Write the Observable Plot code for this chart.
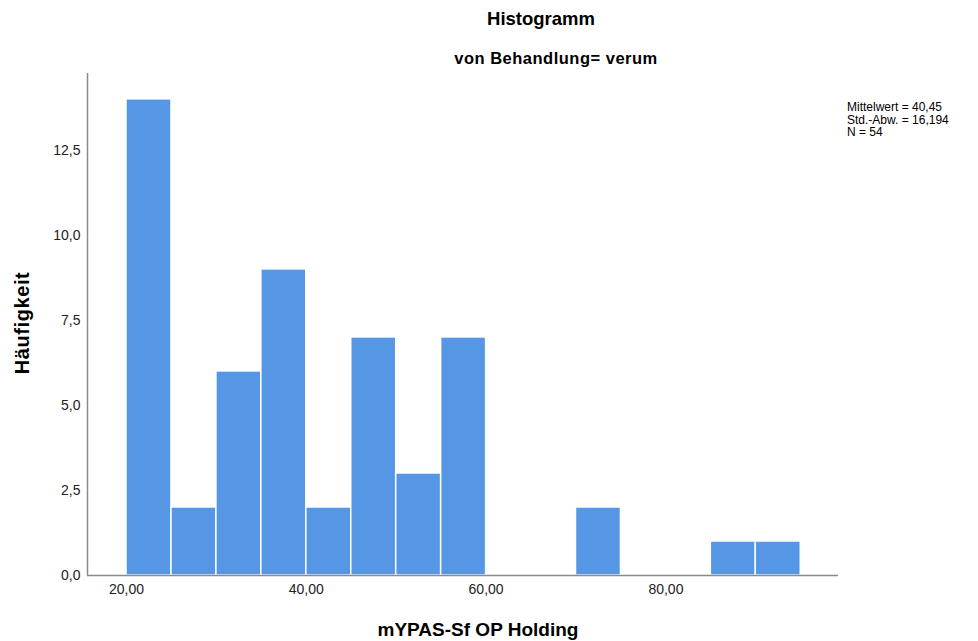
<!DOCTYPE html>
<html>
<head>
<meta charset="utf-8">
<script src="https://cdn.jsdelivr.net/npm/d3@7"></script>
<script src="https://cdn.jsdelivr.net/npm/@observablehq/plot@0.6"></script>
<style>
  html, body { margin: 0; padding: 0; background: #fff; }
  #wrap { position: relative; width: 978px; height: 641px; font-family: "Liberation Sans", Arial, sans-serif; }
  .t { position: absolute; white-space: nowrap; color: #000; }
  #title { left: 0; width: 1082px; text-align: center; top: 8px; font-size: 18.5px; font-weight: bold; }
  #subtitle { left: 0; width: 1112px; text-align: center; top: 49px; font-size: 16.5px; letter-spacing: 0.5px; font-weight: bold; }
  #stats { left: 847px; top: 101px; font-size: 12px; line-height: 12.5px; }
  #ylab { left: 22px; top: 323px; font-size: 20px; letter-spacing: 0.6px; font-weight: bold; transform: translate(-50%, -50%) rotate(-90deg); }
  #xlab { left: 0; width: 956px; text-align: center; top: 619px; font-size: 19px; font-weight: bold; }
</style>
</head>
<body>
<div id="wrap">
  <div id="chart"></div>
  <div class="t" id="title">Histogramm</div>
  <div class="t" id="subtitle">von Behandlung= verum</div>
  <div class="t" id="stats">Mittelwert = 40,45<br>Std.-Abw. = 16,194<br>N = 54</div>
  <div class="t" id="ylab">Häufigkeit</div>
  <div class="t" id="xlab">mYPAS-Sf OP Holding</div>
</div>
<script>
const binLower = [20, 25, 30, 35, 40, 45, 50, 55, 60, 65, 70, 75, 80, 85, 90];
const binUpper = [25, 30, 35, 40, 45, 50, 55, 60, 65, 70, 75, 80, 85, 90, 95];
const counts   = [14, 2, 6, 9, 2, 7, 3, 7, 0, 0, 2, 0, 0, 1, 1];
const xTicks = [20, 40, 60, 80];
const yTicks = [0, 2.5, 5, 7.5, 10, 12.5];

const bins = binLower.map((lo, i) => ({lo, hi: binUpper[i], n: counts[i]})).filter(d => d.n > 0);
const xDomain = [15.66, 99.2];
const yDomain = [0, 14.76];
const fmtY = d => d.toFixed(1).replace(".", ",");
const fmtX = d => d.toFixed(2).replace(".", ",");

const chart = Plot.plot({
  width: 978,
  height: 641,
  marginLeft: 87,
  marginRight: 140,
  marginTop: 73,
  marginBottom: 66,
  style: {fontFamily: "'Liberation Sans', Arial, sans-serif", fontSize: "14px", color: "#222", background: "#fff"},
  x: {domain: xDomain, ticks: xTicks, tickFormat: fmtX, tickSize: 0, tickPadding: 9, label: null},
  y: {domain: yDomain, ticks: yTicks, tickFormat: fmtY, tickSize: 0, tickPadding: 7, label: null},
  marks: [
    Plot.rectY(bins, {x1: "lo", x2: "hi", y1: 0, y2: "n", fill: "#5596e5", stroke: "#ffffff", strokeWidth: 1.5}),
    Plot.ruleX([xDomain[0]], {stroke: "#8a8a8a", strokeWidth: 1.5}),
    Plot.ruleY([0], {stroke: "#8a8a8a", strokeWidth: 1.5})
  ]
});
document.getElementById("chart").appendChild(chart);
</script>
</body>
</html>
